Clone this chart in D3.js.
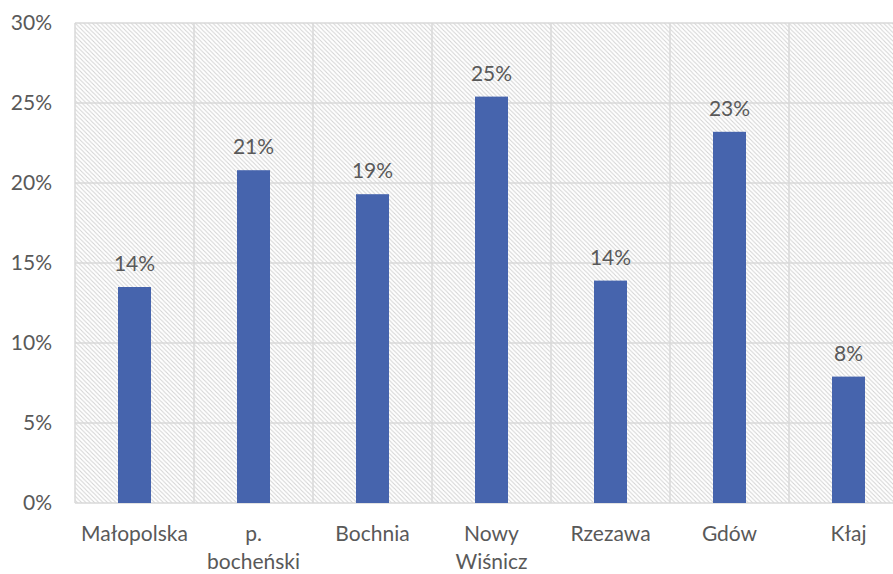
<!DOCTYPE html>
<html>
<head>
<meta charset="utf-8">
<script src="https://cdn.jsdelivr.net/npm/d3@7"></script>
<style>
  body { margin: 0; background: #fff; }
  text { font-family: Lato, "Open Sans", sans-serif; fill: #595959; }
</style>
</head>
<body>
<script>
var categories = ["Małopolska", "p. bocheński", "Bochnia", "Nowy Wiśnicz", "Rzezawa", "Gdów", "Kłaj"];
var labelLines = [["Małopolska"], ["p.", "bocheński"], ["Bochnia"], ["Nowy", "Wiśnicz"], ["Rzezawa"], ["Gdów"], ["Kłaj"]];
var values = [0.135, 0.208, 0.193, 0.254, 0.139, 0.232, 0.079];
var dataLabels = ["14%", "21%", "19%", "25%", "14%", "23%", "8%"];
var yTicks = [0, 0.05, 0.10, 0.15, 0.20, 0.25, 0.30];

var margin = {top: 23, left: 75},
    width = 833,
    height = 480;

var svg = d3.select("body").append("svg")
    .attr("width", 893)
    .attr("height", 574);

// hatch fill like Excel "light downward diagonal"
var defs = svg.append("defs");
var pat = defs.append("pattern")
    .attr("id", "hatch")
    .attr("patternUnits", "userSpaceOnUse")
    .attr("width", 4.3)
    .attr("height", 4.3);
pat.append("path")
    .attr("d", "M-1,-1 L5.3,5.3 M-1,3.3 L1,5.3 M3.3,-1 L5.3,1")
    .attr("stroke", "#d2d2d2")
    .attr("stroke-width", 1);

var g = svg.append("g")
    .attr("transform", "translate(" + margin.left + "," + margin.top + ")");

var x = d3.scaleBand().domain(categories).range([0, width]).paddingInner(0).paddingOuter(0);
var y = d3.scaleLinear().domain([0, 0.30]).range([height, 0]);

g.append("rect")
    .attr("width", width)
    .attr("height", height)
    .attr("fill", "url(#hatch)");

// horizontal gridlines
g.selectAll(".hgrid")
    .data(yTicks)
  .enter().append("line")
    .attr("x1", 0).attr("x2", width)
    .attr("y1", function(d) { return y(d); })
    .attr("y2", function(d) { return y(d); })
    .attr("stroke", "#d9d9d9")
    .attr("stroke-width", 1.5);

// vertical gridlines
g.selectAll(".vgrid")
    .data(d3.range(categories.length + 1))
  .enter().append("line")
    .attr("x1", function(i) { return i * x.step(); })
    .attr("x2", function(i) { return i * x.step(); })
    .attr("y1", 0).attr("y2", height)
    .attr("stroke", "#d9d9d9")
    .attr("stroke-width", 1.5);

var barW = 33;
g.selectAll(".bar")
    .data(values)
  .enter().append("rect")
    .attr("x", function(d, i) { return x(categories[i]) + x.bandwidth() / 2 - barW / 2; })
    .attr("y", function(d) { return y(d); })
    .attr("width", barW)
    .attr("height", function(d) { return height - y(d); })
    .attr("fill", "#4664ad");

// data labels
g.selectAll(".dlabel")
    .data(values)
  .enter().append("text")
    .attr("x", function(d, i) { return x(categories[i]) + x.bandwidth() / 2; })
    .attr("y", function(d) { return y(d) - 16; })
    .attr("text-anchor", "middle")
    .style("font-size", "21px")
    .text(function(d, i) { return dataLabels[i]; });

// y axis labels
g.selectAll(".ylabel")
    .data(yTicks)
  .enter().append("text")
    .attr("x", -23)
    .attr("y", function(d) { return y(d); })
    .attr("dy", "0.35em")
    .attr("text-anchor", "end")
    .style("font-size", "21px")
    .text(function(d) { return Math.round(d * 100) + "%"; });

// x axis labels
var xl = g.selectAll(".xlabel")
    .data(labelLines)
  .enter().append("text")
    .attr("text-anchor", "middle")
    .style("font-size", "21px")
    .attr("transform", function(d, i) {
      return "translate(" + (x(categories[i]) + x.bandwidth() / 2) + "," + (height + 38) + ")";
    });
xl.selectAll("tspan")
    .data(function(d) { return d; })
  .enter().append("tspan")
    .attr("x", 0)
    .attr("y", function(d, j) { return j * 28; })
    .text(function(d) { return d; });
</script>
</body>
</html>
